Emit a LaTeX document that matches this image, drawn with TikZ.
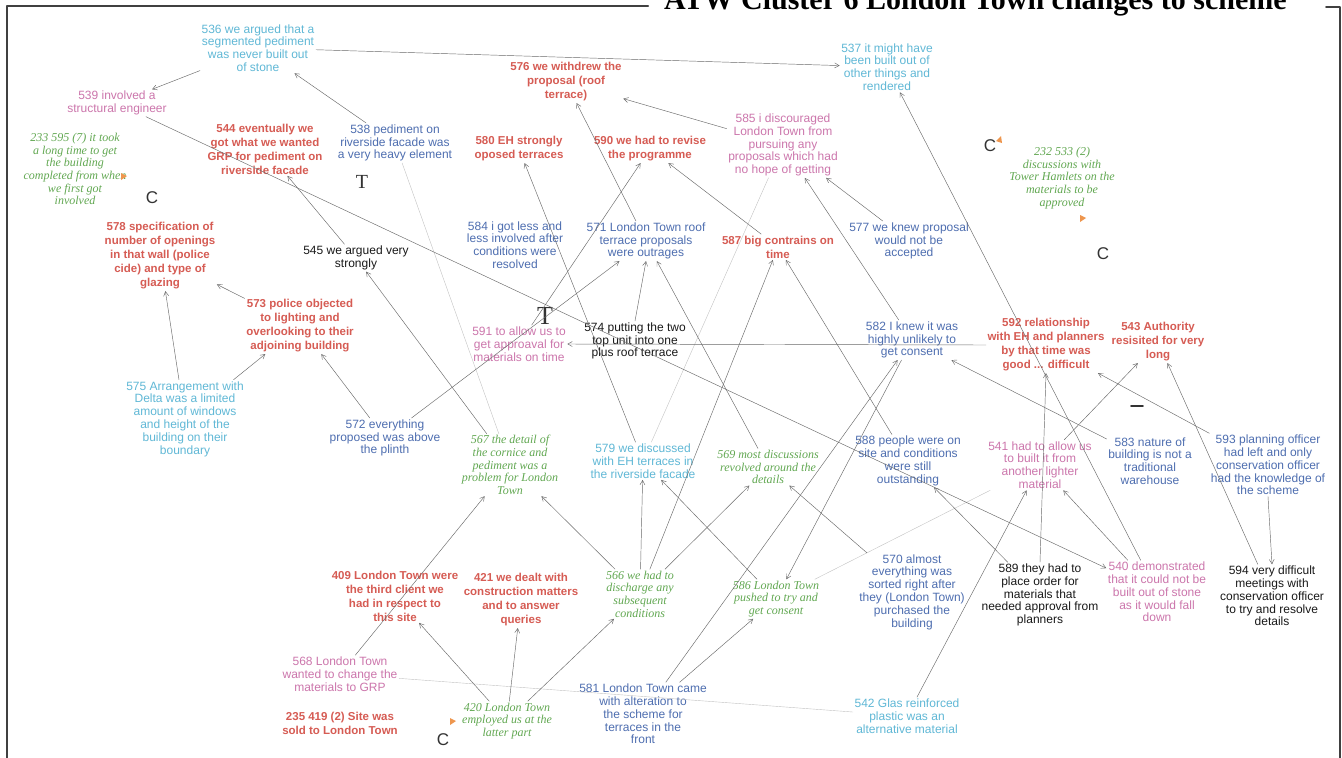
\documentclass[tikz,border=0pt]{standalone}
\usepackage{fontspec}
\setmainfont{Liberation Sans}
\newfontfamily\serifface{Liberation Serif}
\usetikzlibrary{arrows.meta}

\definecolor{skytext}{RGB}{96,184,214}
\definecolor{bluetext}{RGB}{78,110,176}
\definecolor{pinktext}{RGB}{204,118,172}
\definecolor{redtext}{RGB}{214,92,84}
\definecolor{greentext}{RGB}{98,168,82}
\definecolor{linkgrey}{RGB}{105,105,105}
\definecolor{marker}{RGB}{238,150,78}

\tikzset{
  concept/.style={align=center,inner sep=1.5pt,font=\fontsize{12}{12.8}\selectfont},
  skyc/.style={concept,text=skytext},
  bluec/.style={concept,text=bluetext},
  pinkc/.style={concept,text=pinktext},
  blackc/.style={concept,text=black!90},
  redc/.style={concept,text=redtext,font=\bfseries\fontsize{11.5}{14}\selectfont},
  greenc/.style={concept,text=greentext,font=\serifface\itshape\fontsize{12}{12.6}\selectfont},
  link/.style={draw=linkgrey,line width=0.45pt,-{Straight Barb[length=4.5pt,width=5pt]}},
  faintlink/.style={draw=linkgrey!40,line width=0.4pt},
  letterc/.style={inner sep=0pt,text=black!80,font=\fontsize{17}{17}\selectfont},
  lettert/.style={inner sep=0pt,text=black!80,font=\serifface\fontsize{20}{20}\selectfont}
}

\begin{document}
\begin{tikzpicture}[x=1pt,y=-1pt,line cap=round,line join=round]
  \useasboundingbox (0,0) rectangle (1342,758);
  \fill[white] (0,0) rectangle (1342,758);

  % frame and heading
  \draw[line width=2.4pt,black!75] (7,758) -- (7,6) -- (648,6);
  \draw[line width=1.6pt,black!75] (1326,7) -- (1340,7) -- (1340,758);
  \node[anchor=base west,inner sep=0pt,font=\serifface\bfseries\fontsize{30}{30}\selectfont] (title) at (664,9) {ATW Cluster 6 London Town changes to scheme};

  % top row
  \node[skyc] (n536) at (258,48) {536 we argued that a\\segmented pediment\\was never built out\\of stone};
  \node[skyc] (n537) at (887,67) {537 it might have\\been built out of\\other things and\\rendered};
  \node[pinkc] (n539) at (117,103) {539 involved a\\structural engineer};
  \node[greenc] (n233) at (75,169) {233 595 (7) it took\\a long time to get\\the building\\completed from when\\we first got\\involved};
  \node[redc] (n544) at (265,149) {544 eventually we\\got what we wanted\\GRP for pediment on\\riverside facade};
  \node[bluec] (n538) at (395,143) {538 pediment on\\riverside facade was\\a very heavy element};
  \node[redc] (n576) at (566,82) {576 we withdrew the\\proposal (roof\\terrace)};
  \node[redc] (n580) at (519,149) {580 EH strongly\\oposed terraces};
  \node[redc] (n590) at (650,149) {590 we had to revise\\the programme};
  \node[pinkc] (n585) at (783,145) {585 i discouraged\\London Town from\\pursuing any\\proposals which had\\no hope of getting};
  \node[greenc] (n232) at (1062,178) {232 533 (2)\\discussions with\\Tower Hamlets on the\\materials to be\\approved};

  % second row
  \node[redc] (n578) at (160,256) {578 specification of\\number of openings\\in that wall (police\\cide) and type of\\glazing};
  \node[blackc] (n545) at (356,258) {545 we argued very\\strongly};
  \node[bluec] (n584) at (515,245) {584 i got less and\\less involved after\\conditions were\\resolved};
  \node[bluec] (n571) at (646,241) {571 London Town roof\\terrace proposals\\were outrages};
  \node[redc] (n587) at (778,247) {587 big contrains on\\time};
  \node[bluec] (n577) at (909,241) {577 we knew proposal\\would not be\\accepted};

  % third row
  \node[redc] (n573) at (300,326) {573 police objected\\to lighting and\\overlooking to their\\adjoining building};
  \node[pinkc] (n591) at (519,344) {591 to allow us to\\get approaval for\\materials on time};
  \node[blackc] (n574) at (635,341) {574 putting the two\\top unit into one\\plus roof terrace};
  \node[bluec] (n582) at (912,340) {582 I knew it was\\highly unlikely to\\get consent};
  \node[redc] (n592) at (1046,345) {592 relationship\\with EH and planners\\by that time was\\good ... difficult};
  \node[redc] (n543) at (1158,342) {543 Authority\\resisited for very\\long};

  % fourth row
  \node[skyc] (n575) at (185,419) {575 Arrangement with\\Delta was a limited\\amount of windows\\and height of the\\building on their\\boundary};
  \node[bluec] (n572) at (385,438) {572 everything\\proposed was above\\the plinth};
  \node[greenc] (n567) at (510,465) {567 the detail of\\the cornice and\\pediment was a\\problem for London\\Town};
  \node[skyc] (n579) at (643,461) {579 we discussed\\with EH terraces in\\the riverside facade};
  \node[greenc] (n569) at (768,467) {569 most discussions\\revolved around the\\details};
  \node[bluec] (n588) at (908,461) {588 people were on\\site and conditions\\were still\\outstanding};
  \node[pinkc] (n541) at (1040,465) {541 had to allow us\\to built it from\\another lighter\\material};
  \node[bluec] (n583) at (1150,461) {583 nature of\\building is not a\\traditional\\warehouse};
  \node[bluec] (n593) at (1268,465) {593 planning officer\\had left and only\\conservation officer\\had the knowledge of\\the scheme};

  % fifth row
  \node[redc] (n409) at (395,596) {409 London Town were\\the third client we\\had in respect to\\this site};
  \node[redc] (n421) at (521,600) {421 we dealt with\\construction matters\\and to answer\\queries};
  \node[greenc] (n566) at (640,594) {566 we had to\\discharge any\\subsequent\\conditions};
  \node[greenc] (n586) at (776,599) {586 London Town\\pushed to try and\\get consent};
  \node[bluec] (n570) at (912,592) {570 almost\\everything was\\sorted right after\\they (London Town)\\purchased the\\building};
  \node[blackc] (n589) at (1040,595) {589 they had to\\place order for\\materials that\\needed approval from\\planners};
  \node[pinkc] (n540) at (1157,592) {540 demonstrated\\that it could not be\\built out of stone\\as it would fall\\down};
  \node[blackc] (n594) at (1272,596) {594 very difficult\\meetings with\\conservation officer\\to try and resolve\\details};

  % bottom row
  \node[pinkc] (n568) at (340,674) {568 London Town\\wanted to change the\\materials to GRP};
  \node[redc] (n235) at (340,723) {235 419 (2) Site was\\sold to London Town};
  \node[greenc] (n420) at (507,721) {420 London Town\\employed us at the\\latter part};
  \node[bluec] (n581) at (643,714) {581 London Town came\\with alteration to\\the scheme for\\terraces in the\\front};
  \node[skyc] (n542) at (907,716) {542 Glas reinforced\\plastic was an\\alternative material};

  % stray marks
  \node[letterc] (c1) at (152,198) {C};
  \node[letterc] (c2) at (990,146) {C};
  \node[letterc] (c3) at (1103,254) {C};
  \node[letterc] (c4) at (443,740) {C};
  \node[lettert] (t1) at (362,182) {T};
  \node[lettert,font=\serifface\fontsize{26}{26}\selectfont] (t2) at (545,316) {T};
  \draw[line width=1.8pt,black!80] (1131,406) -- (1143,406);
  \fill[marker] (121,173) -- (127,176) -- (121,180) -- cycle;
  \fill[marker] (1080,215) -- (1086,218) -- (1080,222) -- cycle;
  \fill[marker] (996,141) -- (1001,136) -- (1002,143) -- cycle;
  \fill[marker] (450,718) -- (456,721) -- (450,725) -- cycle;

  % faint links
  \draw[faintlink] (n567) -- (n538);
  \draw[faintlink] (n579) -- (n585);
  \draw[faintlink] (n568) -- (n542);
  \draw[faintlink] (n586) -- (n541);

  % links
  \draw[link] (n536) -- (n539);
  \draw[link] (n536) -- (n537);
  \draw[link] (n538) -- (n536);
  \draw[link] (n539) -- (n540);
  \draw[link] (n545) -- (n544);
  \draw[link] (n585) -- (n576);
  \draw[link] (n571) -- (n576);
  \draw[link] (n579) -- (n580);
  \draw[link] (n591) -- (n590);
  \draw[link] (n587) -- (n590);
  \draw[link] (n582) -- (n585);
  \draw[link] (n577) -- (n585);
  \draw[link] (n540) -- (n537);
  \draw[link] (n566) -- (n587);
  \draw[link] (n566) -- (n567);
  \draw[link] (n566) -- (n579);
  \draw[link] (n566) -- (n569);
  \draw[link] (n581) -- (n582);
  \draw[link] (n582) -- (n586);
  \draw[link] (n581) -- (n586);
  \draw[link] (n572) -- (n573);
  \draw[link] (n572) -- (n571);
  \draw[link] (n575) -- (n578);
  \draw[link] (n575) -- (n573);
  \draw[link] (n573) -- (n578);
  \draw[link] (n567) -- (n545);
  \draw[link] (n568) -- (n567);
  \draw[link] (n420) -- (n409);
  \draw[link] (n420) -- (n421);
  \draw[link] (n420) -- (n566);
  \draw[link] (n570) -- (n569);
  \draw[link] (n588) -- (n587);
  \draw[link] (n589) -- (n588);
  \draw[link] (n589.north) -- (n592.south);
  \draw[link] (n542) -- (n541);
  \draw[link] (n541) -- (n543);
  \draw[link] (n540) -- (n541);
  \draw[link] (n583) -- (n582);
  \draw[link] (n594) -- (n543);
  \draw[link] (n593.south) -- (n594.north);
  \draw[link] (n593) -- (n592);
  \draw[link] (n592.west) -- (n591.east);
  \draw[link] (n574.north) -- (n571.south);
  \draw[link] (n569) -- (n571);
  \draw[link] (n586) -- (n579);
\end{tikzpicture}
\end{document}
